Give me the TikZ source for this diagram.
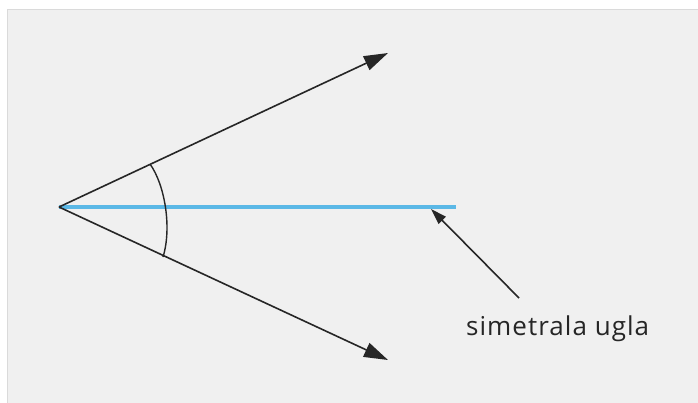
\documentclass[tikz,border=0pt]{standalone}
\usepackage{fontspec}
\setmainfont{Open Sans}
\usetikzlibrary{arrows.meta}
\definecolor{bg}{HTML}{F0F0F0}
\definecolor{frame}{HTML}{DADADA}
\definecolor{bisect}{HTML}{5BB8E6}
\tikzset{
  ray/.style={draw=black!85, line width=1.6pt, -{Triangle[length=24pt,width=15pt]}},
  pointer/.style={draw=black!85, line width=1.6pt, -{Triangle[length=16pt,width=10pt]}},
  bis/.style={draw=bisect, line width=3.2pt},
  lbl/.style={font=\fontsize{26}{30}\selectfont\addfontfeature{LetterSpace=4}, text=black!85, inner sep=0pt, anchor=base west}
}
\begin{document}
\begin{tikzpicture}[x=1pt,y=-1pt]
\useasboundingbox (0,0) rectangle (698,402);
\fill[white] (0,0) rectangle (698,402);
\filldraw[fill=bg, draw=frame, line width=1.5pt] (7.5,9.5) rectangle (700,404);
\coordinate (O) at (59,207);
\coordinate (A) at (388,53);
\coordinate (B) at (388,360);
\coordinate (C) at (456,207);
\coordinate (P) at (431,209);
\coordinate (Q) at (519,298);
\draw[bis] (O) -- (C);
\draw[ray] (O) -- (A);
\draw[ray] (O) -- (B);
\draw[draw=black!85, line width=1.4pt] (150,164) .. controls (165,185) and (172,228) .. (163,257);
\node[lbl] (L) at (466,335) {simetrala ugla};
\draw[pointer] (Q) -- (P);
\end{tikzpicture}
\end{document}
